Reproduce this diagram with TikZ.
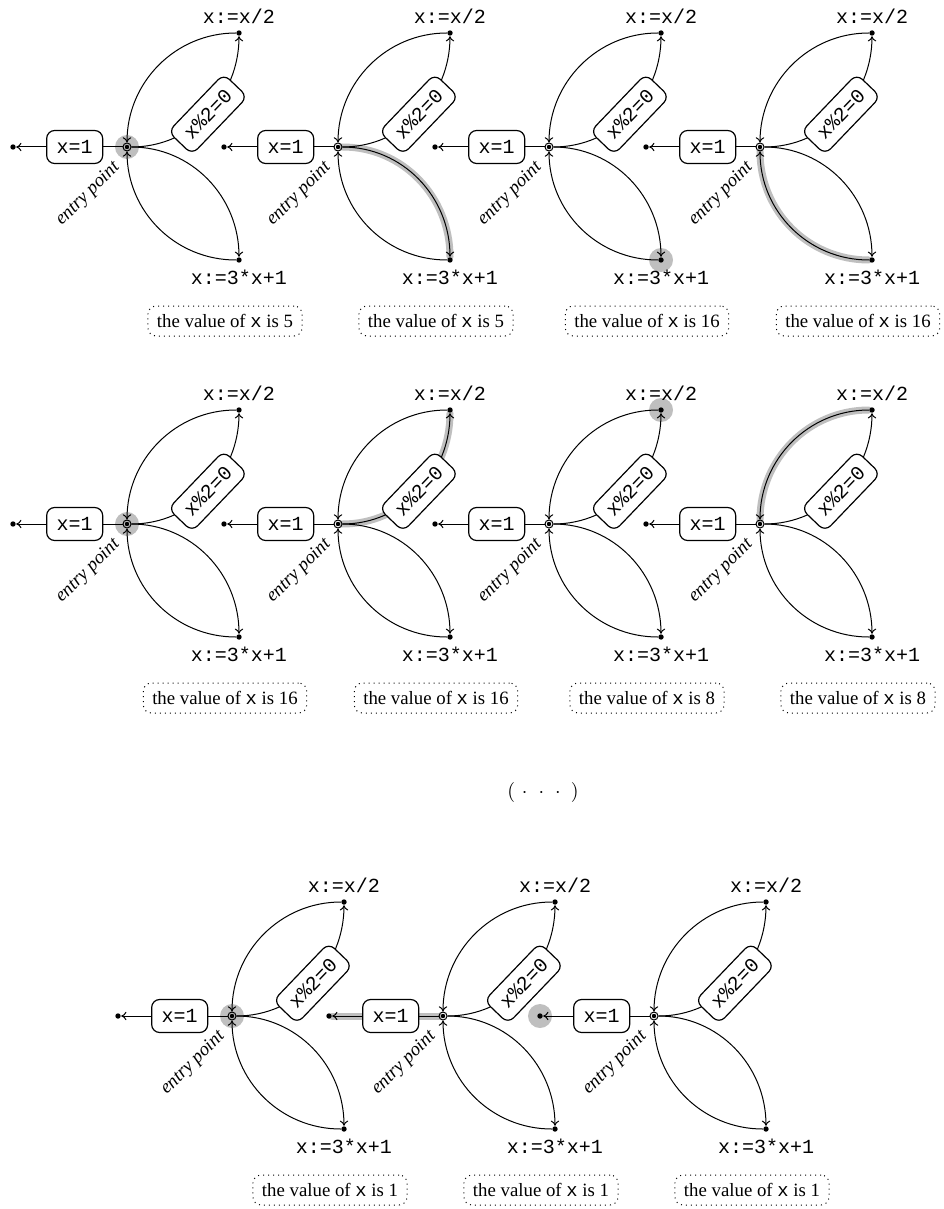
\documentclass[tikz,border=0pt]{standalone}
\usepackage{fontspec}
\setmainfont{Liberation Serif}
\setmonofont{Liberation Mono}
\usetikzlibrary{positioning,backgrounds,arrows.meta}

\tikzset{
  dotnode/.style={circle,fill,inner sep=0pt,minimum size=2.7pt},
  entrynode/.style={circle,draw,inner sep=0pt,minimum size=4pt,
    path picture={\fill (path picture bounding box.center) circle (1.1pt);}},
  guardbox/.style={draw,fill=white,rounded corners=4pt,line width=0.6pt,
    minimum height=16.5pt,inner xsep=5pt,font=\fontsize{10}{12}\selectfont\ttfamily},
  actionlabel/.style={inner sep=3pt,font=\fontsize{10}{12}\selectfont\ttfamily},
  valuebox/.style={draw,dotted,rounded corners=4pt,minimum height=15pt,
    inner xsep=4.5pt,font=\fontsize{9.4}{11}\selectfont},
  entrylabel/.style={rotate=45,inner sep=1pt,font=\fontsize{9.4}{11}\selectfont\itshape},
  hlpath/.style={line width=3.5pt,black!25,line cap=round},
  hlspot/.style={fill=black!25}
}

% one copy of the machine, entry point at (#2,#3) in pixels
\newcommand{\collatzmachine}[4]{%
  \begin{scope}[shift={(#2,-#3)}]
    \node[entrynode] (#1e) at (0,0) {};
    \node[dotnode] (#1t) at (112,114) {};
    \node[dotnode] (#1b) at (112,-113) {};
    \node[dotnode] (#1l) at (-114,0) {};
    \node[actionlabel, above=0pt of #1t] (#1tl) {x:=x/2};
    \node[actionlabel, below=0pt of #1b] (#1bl) {x:=3*x+1};
    \node[entrylabel] (#1el) at (-39,-47) {entry point};
    \node[valuebox] (#1v) at (98,-174) {the value of \texttt{x} is #4};

    \draw[->] (#1e) to[out=0,in=-90] node[guardbox,sloped] (#1g) {x\%2=0} (#1t);
    \draw[->] (#1t) to[out=180,in=90] (#1e);
    \draw[->] (#1e) to[out=0,in=90] (#1b);
    \draw[->] (#1b) to[out=180,in=-90] (#1e);
    \draw[->] (#1e) -- node[guardbox,pos=0.45] (#1x) {x=1} (#1l);
  \end{scope}}

\begin{document}
\begin{tikzpicture}[x=0.5pt,y=0.5pt,line width=0.5pt,>={To[length=2.6pt,width=4.2pt]}]
  \useasboundingbox (0,0) rectangle (943,-1209);

  \foreach \n/\px/\py/\val in {1/127/147/5, 2/338/147/5, 3/549/147/16, 4/760/147/16,
                               5/127/524/16, 6/338/524/16, 7/549/524/8, 8/760/524/8,
                               9/232/1016/1, 10/443/1016/1, 11/654/1016/1}
    {\collatzmachine{m\n}{\px}{\py}{\val}}

  \node[font=\fontsize{10}{12}\selectfont] (dots) at (543,-792)
    {$(\mkern6mu\cdotp\mkern7mu\cdotp\mkern7mu\cdotp\mkern6mu)$};

  % the current step
  \begin{pgfonlayer}{background}
    \fill[hlspot] (m1e) circle (6pt);
    \draw[hlpath] (m2e) to[out=0,in=90] (m2b);
    \fill[hlspot] (m3b) circle (6pt);
    \draw[hlpath] (m4b) to[out=180,in=-90] (m4e);
    \fill[hlspot] (m5e) circle (6pt);
    \draw[hlpath] (m6e) to[out=0,in=-90] (m6t);
    \fill[hlspot] (m7t) circle (6pt);
    \draw[hlpath] (m8t) to[out=180,in=90] (m8e);
    \fill[hlspot] (m9e) circle (6pt);
    \draw[hlpath] (m10e) -- (m10l);
    \fill[hlspot] (m11l) circle (6pt);
  \end{pgfonlayer}
\end{tikzpicture}
\end{document}
